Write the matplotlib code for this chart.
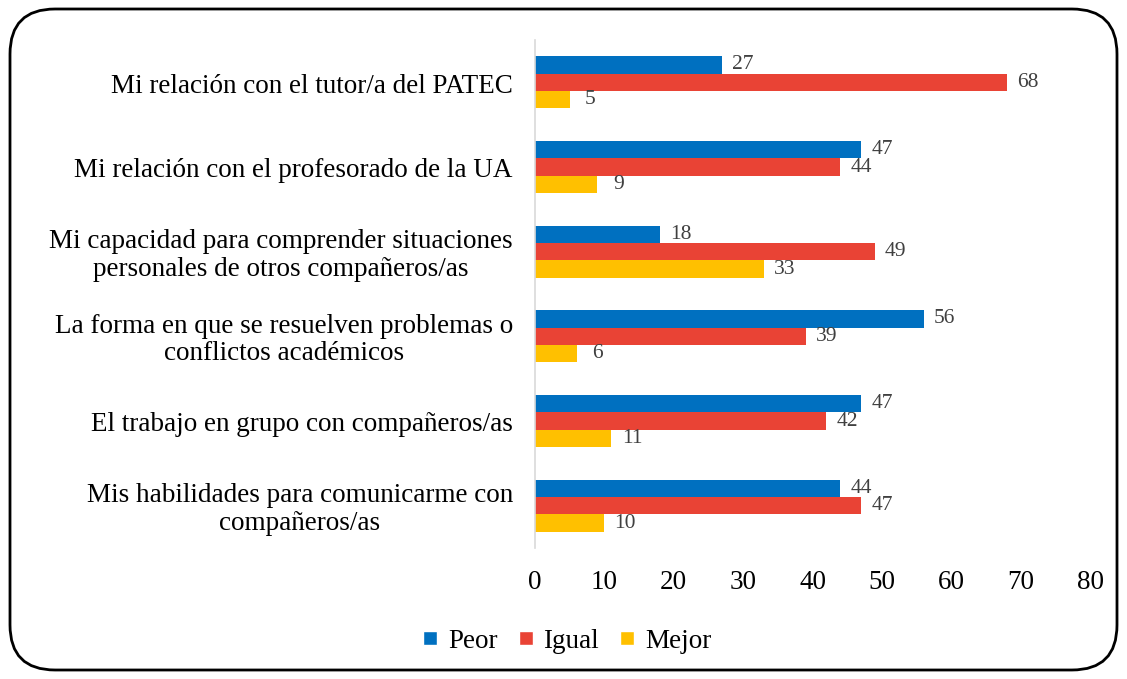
import matplotlib
matplotlib.use("Agg")
import matplotlib.pyplot as plt
import matplotlib.transforms as mtransforms
import numpy as np
from matplotlib.patches import FancyBboxPatch

categories = [
    "Mi relación con el tutor/a del PATEC",
    "Mi relación con el profesorado de la UA",
    "Mi capacidad para comprender situaciones\npersonales de otros compañeros/as",
    "La forma en que se resuelven problemas o\nconflictos académicos",
    "El trabajo en grupo con compañeros/as",
    "Mis habilidades para comunicarme con\ncompañeros/as",
]
series_names = ["Peor", "Igual", "Mejor"]
peor = [27, 47, 18, 56, 47, 44]
igual = [68, 44, 49, 39, 42, 47]
mejor = [5, 9, 33, 6, 11, 10]
xticks = [0, 10, 20, 30, 40, 50, 60, 70, 80]

colors = ["#0070C0", "#E94335", "#FFC000"]

plt.rcParams['font.family'] = ['Liberation Serif', 'DejaVu Serif']

fig = plt.figure(figsize=(11.27, 6.79), dpi=100)
ax = fig.add_axes([535/1127, 1 - 548/679, (1090-535)/1127, (548-40)/679])

y = np.arange(len(categories))
h = 0.205
offsets = [-h, 0, h]
for vals, name, c, off in zip([peor, igual, mejor], series_names, colors, offsets):
    ax.barh(y + off, vals, height=h, color=c, label=name)
    for yi, v in zip(y + off, vals):
        ax.text(v + 3.0, yi, str(v), va='center', ha='center', fontsize=15.5, color='#404040')

ax.set_ylim(len(categories) - 0.5, -0.5)
ax.set_xlim(0, 80)
ax.set_yticks(y)
ax.set_yticklabels([])
trans = mtransforms.blended_transform_factory(ax.transAxes, ax.transData)
for yi, cat in zip(y, categories):
    ax.text(-22/555, yi + 0.045, cat, transform=trans, ha='right', va='center',
            multialignment='center', fontsize=19.5, linespacing=1.12)
ax.set_xticks(xticks)
ax.set_xticklabels([str(t) for t in xticks], fontsize=19.5)
for s in ['top', 'right', 'bottom']:
    ax.spines[s].set_visible(False)
ax.spines['left'].set_color('#D9D9D9')
ax.spines['left'].set_linewidth(1.2)
ax.tick_params(axis='both', length=0)
ax.tick_params(axis='x', pad=16)

handles = [plt.Line2D([0], [0], marker='s', color='w', markerfacecolor=c, markersize=10, linestyle='') for c in colors]
fig.legend(handles, series_names, loc='center', bbox_to_anchor=(566/1127, 1 - 641/679),
           ncol=3, frameon=False, fontsize=19.5, handletextpad=0.3, columnspacing=0.7, handlelength=0.7)

border = FancyBboxPatch((10/1127, 9/679), (1117-10)/1127, (670-9)/679,
                        boxstyle="round,pad=0,rounding_size=0.04",
                        transform=fig.transFigure, fill=False, edgecolor='black', linewidth=2,
                        mutation_aspect=1127/679)
fig.patches.append(border)

fig.savefig("out.png", dpi=100)
